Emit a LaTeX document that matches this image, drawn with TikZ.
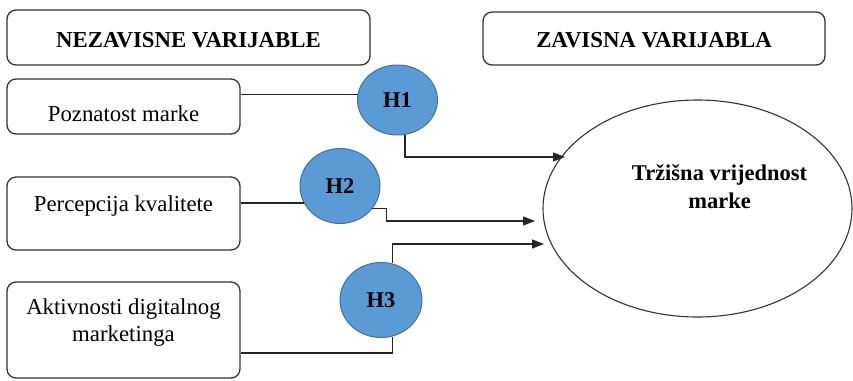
\documentclass[tikz,border=0pt]{standalone}
\usepackage{fontspec}
\setmainfont{Liberation Serif}
\usepackage{tikz}
\usetikzlibrary{shapes,arrows.meta}
\definecolor{hypblue}{HTML}{5B9BD5}
\definecolor{hypedge}{HTML}{41719C}

\begin{document}
\begin{tikzpicture}[x=1pt, y=-1pt,
box/.style={draw=black!80, line width=1.3pt, rounded corners=9pt, minimum width=233pt, inner sep=0pt, font=\fontsize{22.8}{27}\selectfont},
hyp/.style={ellipse, draw=hypedge, line width=1pt, fill=hypblue, minimum width=80pt, minimum height=72pt, inner sep=0pt, font=\fontsize{22.5}{27}\selectfont\bfseries},
arr/.style={draw=black!85, line width=1.3pt}]
\useasboundingbox (0,0) rectangle (853,380);

\node[box, minimum width=363pt, minimum height=55pt] (nez) at (188.5,37.5) {\raisebox{-3pt}[\height][\depth]{\textbf{NEZAVISNE VARIJABLE}}\hspace{26pt}};
\node[box, minimum width=342pt, minimum height=53pt] (zav) at (654,38.5) {\raisebox{-2pt}[\height][\depth]{\textbf{ZAVISNA VARIJABLA}}\hspace{38pt}};
\node[box, minimum height=55pt] (pozn) at (123.5,106.5) {\raisebox{-7pt}[\height][\depth]{Poznatost marke}};
\node[box, minimum height=73pt] (perc) at (123.5,213.5) {\raisebox{7pt}[\height][\depth]{Percepcija kvalitete}};
\node[box, minimum height=96pt] (akt) at (123.5,330) {\raisebox{7pt}[\height][\depth]{\begin{tabular}{c}Aktivnosti digitalnog\\ marketinga\end{tabular}}};

\node[hyp, minimum height=70pt] (h1) at (397.5,100) {H1};
\node[hyp, minimum height=75pt] (h2) at (340,186) {H2};
\node[hyp, minimum width=82pt, minimum height=75pt] (h3) at (381,300) {H3};

\node[ellipse, draw=black!80, line width=1.1pt, minimum width=309pt, minimum height=217pt, inner sep=0pt, font=\fontsize{22.5}{28}\selectfont\bfseries] (tv) at (697.5,208.5) {\hspace{44pt}\makebox[0pt]{\raisebox{20pt}[\height][\depth]{\begin{tabular}{c}Tržišna vrijednost\\ marke\end{tabular}}}};

\coordinate (a1) at (565,157);
\coordinate (a2) at (535,221);
\coordinate (a3) at (544,244);

% links
\draw[arr] (pozn.east |- h1.172) -- (h1.172);
\draw[arr, -{Triangle[length=12pt,width=9pt]}] (h1.-78) |- (a1);
\draw[arr] (perc.east |- h2.205) -- (h2.205);
\draw[arr, -{Triangle[length=12pt,width=9pt]}] (h2.-35) -- ++(14,0) |- (a2);
\draw[arr] ([yshift=-23pt]akt.east) -| (h3.-73);
\draw[arr, -{Triangle[length=12pt,width=9pt]}] (h3.73) |- (a3);
\end{tikzpicture}
\end{document}
